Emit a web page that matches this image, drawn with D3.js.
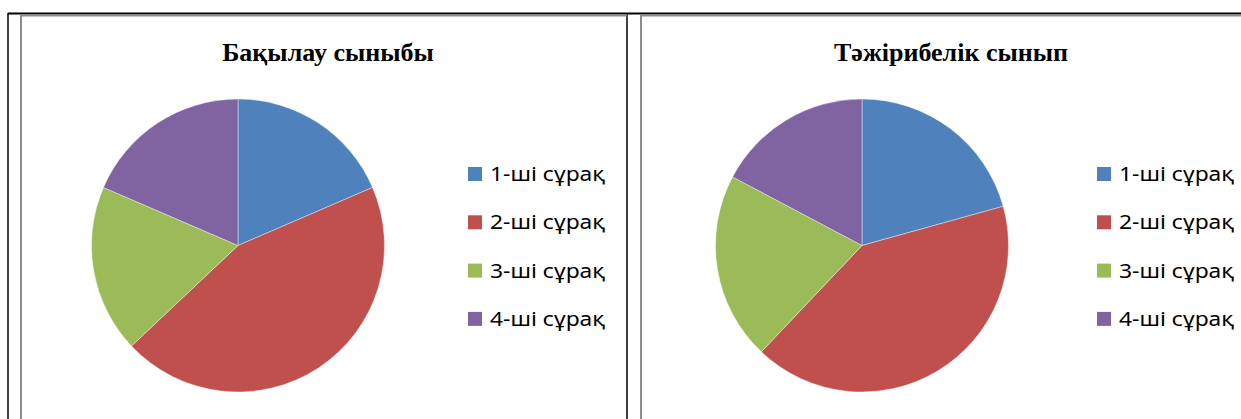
<!DOCTYPE html>
<html lang="kk">
<head>
  <meta charset="UTF-8">
  <title>Pie charts</title>
  <style>
    body { margin: 0; background: #fff; }
  </style>
</head>
<body>

  <svg id="svg" width="1241" height="419"></svg>

  <script src="https://cdn.jsdelivr.net/npm/d3@7"></script>
  <script>
    const categories = ['1-ші сұрақ', '2-ші сұрақ', '3-ші сұрақ', '4-ші сұрақ'];
    const controlValues = [5, 12, 5, 5];
    const experimentValues = [6, 12, 6, 5];
    const titles = ['Бақылау сыныбы', 'Тәжірибелік сынып'];
    const colors = ['#4F81BD', '#C0504D', '#9BBB59', '#8064A2'];

    const svg = d3.select('#svg');

    // table lines (black) and chart frames (gray)
    svg.append('line').attr('x1', 8).attr('x2', 1241).attr('y1', 13.5).attr('y2', 13.5)
      .attr('stroke', '#000').attr('stroke-width', 2);
    [8, 627].forEach(x => {
      svg.append('line').attr('x1', x).attr('x2', x).attr('y1', 13).attr('y2', 419)
        .attr('stroke', '#000').attr('stroke-width', 1.5);
    });
    [[21, 627], [641, 1241]].forEach(([x0, x1]) => {
      svg.append('path')
        .attr('d', `M${x0},419 V15.5 H${x1}`)
        .attr('fill', 'none').attr('stroke', '#8c8c8c').attr('stroke-width', 2);
    });

    const color = d3.scaleOrdinal().domain(categories).range(colors);
    const pie = d3.pie().sort(null);
    const arc = d3.arc().innerRadius(0).outerRadius(146.5);

    const charts = [
      { title: titles[0], values: controlValues, cx: 238, titleX: 328, legendX: 468 },
      { title: titles[1], values: experimentValues, cx: 862, titleX: 951, legendX: 1097 }
    ];

    charts.forEach(c => {
      const g = svg.append('g');

      g.append('text')
        .attr('x', c.titleX).attr('y', 61)
        .attr('text-anchor', 'middle')
        .style('font-family', '"Liberation Serif", "Times New Roman", serif')
        .style('font-weight', 'bold')
        .style('font-size', '26px')
        .text(c.title);

      g.append('g')
        .attr('transform', `translate(${c.cx},245.5)`)
        .selectAll('path')
        .data(pie(c.values))
        .enter()
        .append('path')
        .attr('d', arc)
        .attr('fill', (d, i) => color(categories[i]))
        .attr('stroke', '#fff')
        .attr('stroke-opacity', 0.5)
        .attr('stroke-width', 0.8);

      const legend = g.selectAll('.leg')
        .data(categories)
        .enter()
        .append('g')
        .attr('transform', (d, i) => `translate(${c.legendX},${174 + i * 48.3})`);

      legend.append('rect')
        .attr('x', 0).attr('y', -7)
        .attr('width', 14).attr('height', 14)
        .attr('fill', d => color(d));

      // legend font is wide in the original, so stretch to its width
      legend.append('text')
        .attr('x', 22).attr('y', 7)
        .attr('textLength', 115)
        .attr('lengthAdjust', 'spacingAndGlyphs')
        .style('font-family', '"Noto Sans", sans-serif')
        .style('font-size', '20px')
        .style('fill', '#000')
        .text(d => d);
    });
  </script>
</body>
</html>
